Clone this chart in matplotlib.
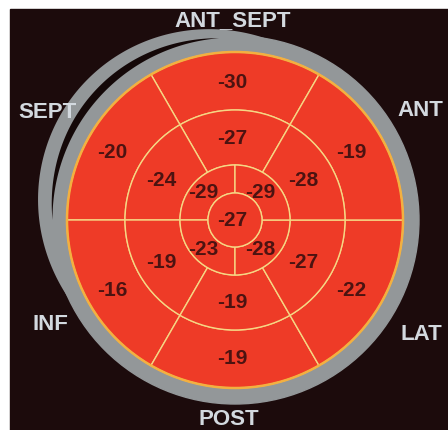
import numpy as np
import matplotlib.pyplot as plt
from matplotlib.patches import Wedge, Rectangle, Circle, Polygon

# 17-segment bullseye values (peak systolic strain)
basal_angles = [90, 150, 210, 270, 330, 30]
basal_vals = [-30, -20, -16, -19, -22, -19]
mid_angles = [90, 150, 210, 270, 330, 30]
mid_vals = [-27, -24, -19, -19, -27, -28]
apical_angles = [135, 225, 315, 45]
apical_vals = [-29, -23, -28, -29]
apex_val = -27

wall_names = ['ANT_SEPT', 'SEPT', 'ANT', 'INF', 'LAT', 'POST']
wall_pos = [(233, 21), (18, 112), (397, 110), (33, 325), (400, 335), (198, 420)]
wall_ha = ['center', 'left', 'left', 'left', 'left', 'left']

W, H = 448, 431
fig = plt.figure(figsize=(W / 100, H / 100), dpi=100)
ax = fig.add_axes([0, 0, 1, 1])
ax.set_xlim(0, W)
ax.set_ylim(0, H)
ax.set_aspect('auto')
ax.axis('off')
fig.patch.set_facecolor('white')

def Y(y):
    return H - y

# dark screen background
ax.add_patch(Rectangle((10, 0), W - 10, H - 10, color='#1c0b0c', zorder=0))

cx, cy = 235, Y(221)
R = [27, 55, 110, 168]
red = '#ee3b27'
line_col = '#f6d784'
txt_col = '#4c1311'
gray = '#939799'

# gray outer ring
ax.add_patch(Circle((cx, cy), 184, color=gray, zorder=1))
# crescent on the upper left
th = np.linspace(80, 205, 120)
bump = np.sin(np.pi * (th - 80) / 125)
r_out = 184 + 20 * bump
pts = [(cx + r * np.cos(np.radians(t)), cy + r * np.sin(np.radians(t))) for t, r in zip(th, r_out)]
pts += [(cx + 180 * np.cos(np.radians(t)), cy + 180 * np.sin(np.radians(t))) for t in th[::-1]]
ax.add_patch(Polygon(pts, closed=True, color=gray, zorder=1, lw=0))
th2 = np.linspace(95, 180, 100)
b2 = np.sin(np.pi * (th2 - 95) / 85)
g_in = 182.5 + 0.5 * b2
g_out = 182.5 + 8 * b2
pts2 = [(cx + r * np.cos(np.radians(t)), cy + r * np.sin(np.radians(t))) for t, r in zip(th2, g_out)]
pts2 += [(cx + r * np.cos(np.radians(t)), cy + r * np.sin(np.radians(t))) for t, r in zip(th2[::-1], g_in[::-1])]
ax.add_patch(Polygon(pts2, closed=True, color='#140808', zorder=2, lw=0))

# red segments
def ring(angles, vals, r_in, r_out, r_txt):
    n = len(angles)
    span = 360 / n
    for a, v in zip(angles, vals):
        ax.add_patch(Wedge((cx, cy), r_out, a - span / 2, a + span / 2, width=r_out - r_in,
                           facecolor=red, edgecolor=line_col, lw=1.0, zorder=3))
        ax.text(cx - 3 + r_txt * np.cos(np.radians(a)), cy + r_txt * np.sin(np.radians(a)),
                str(v), color=txt_col, fontsize=15, fontweight='bold',
                family='Liberation Sans', ha='center', va='center', zorder=5)

ring(basal_angles, basal_vals, R[2], R[3], 138)
ring(mid_angles, mid_vals, R[1], R[2], 82)
ring(apical_angles, apical_vals, R[0], R[1], 40)
ax.add_patch(Circle((cx, cy), R[0], facecolor=red, edgecolor=line_col, lw=1.0, zorder=3))
ax.text(cx - 3, cy, str(apex_val), color=txt_col, fontsize=15, fontweight='bold',
        family='Liberation Sans', ha='center', va='center', zorder=5)
ax.add_patch(Circle((cx, cy), R[3], fill=False, edgecolor='#f3b040', lw=1.8, zorder=4))

for name, (x, y), ha in zip(wall_names, wall_pos, wall_ha):
    ax.text(x, Y(y), name, color='#d3d9df', fontsize=16, fontweight='bold',
            family='Liberation Sans', ha=ha, va='center', zorder=6)

fig.savefig('out.png', dpi=100, facecolor='white')
